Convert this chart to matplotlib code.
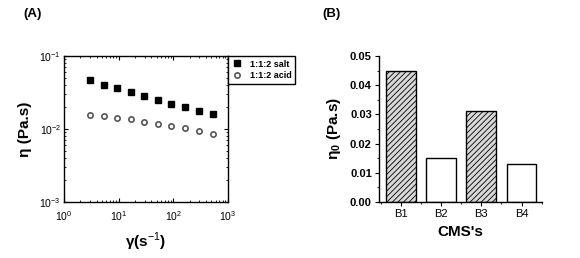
import numpy as np
import matplotlib
matplotlib.use("Agg")
import matplotlib.pyplot as plt
from matplotlib.ticker import LogLocator, MultipleLocator, NullFormatter, FormatStrFormatter

plt.rcParams['font.family'] = ['Liberation Sans', 'DejaVu Sans']
plt.rcParams['mathtext.fontset'] = 'custom'
plt.rcParams['mathtext.rm'] = 'Liberation Sans'
plt.rcParams['mathtext.bf'] = 'Liberation Sans:bold'
plt.rcParams['hatch.linewidth'] = 0.6
plt.rcParams['hatch.color'] = '#333333'

# panel A: viscosity vs shear rate
shear_rate = [2.96, 5.35, 9.3, 16.8, 29.5, 52.6, 91, 165, 298, 523]
eta_salt = [0.0465, 0.0402, 0.0366, 0.0322, 0.0284, 0.0250, 0.0218, 0.0197, 0.0179, 0.0160]
eta_acid = [0.0156, 0.0150, 0.0142, 0.0136, 0.0125, 0.0118, 0.0109, 0.0102, 0.0093, 0.0085]

# panel B: zero-shear viscosity
samples = ["B1", "B2", "B3", "B4"]
eta0 = [0.045, 0.015, 0.031, 0.013]
hatched = [True, False, True, False]

fig = plt.figure(figsize=(5.8, 2.58), dpi=100)

# ---- (A)
ax1 = fig.add_axes([0.110, 0.217, 0.283, 0.566])
ax1.loglog(shear_rate, eta_salt, linestyle="none", marker="s", markersize=3.8,
           color="black", label="1:1:2 salt")
ax1.loglog(shear_rate, eta_acid, linestyle="none", marker="o", markersize=3.8,
           markerfacecolor="white", markeredgecolor="#555555", markeredgewidth=1.2,
           label="1:1:2 acid")
ax1.set_xlim(1, 1000)
ax1.set_ylim(1e-3, 1e-1)
ax1.xaxis.set_major_locator(LogLocator(base=10, numticks=10))
ax1.yaxis.set_major_locator(LogLocator(base=10, numticks=10))
ax1.xaxis.set_minor_locator(LogLocator(base=10, subs=np.arange(2, 10), numticks=10))
ax1.yaxis.set_minor_locator(LogLocator(base=10, subs=np.arange(2, 10), numticks=10))
ax1.xaxis.set_minor_formatter(NullFormatter())
ax1.yaxis.set_minor_formatter(NullFormatter())
ax1.tick_params(which="both", direction="in", top=True, right=True, labelsize=7.5)
ax1.tick_params(axis="x", pad=5)
ax1.tick_params(axis="y", pad=2)
ax1.tick_params(which="major", length=3)
ax1.tick_params(which="minor", length=1.5)
for s in ax1.spines.values():
    s.set_linewidth(1)
ax1.set_xlabel("γ(s$^{-1}$)", fontsize=11, fontweight="bold", labelpad=6)
ax1.set_ylabel("η (Pa.s)", fontsize=11, fontweight="bold", labelpad=5)
leg = ax1.legend(loc="upper left", bbox_to_anchor=(1.0, 1.0), borderaxespad=0,
                 fancybox=False, edgecolor="black", framealpha=1,
                 prop={"size": 6.5, "weight": "bold"}, handlelength=1.2,
                 handletextpad=0.8, borderpad=0.4, labelspacing=0.3)
leg.get_frame().set_linewidth(1)
fig.text(0.040, 0.935, "(A)", fontsize=9.5, fontweight="bold")

# ---- (B)
ax2 = fig.add_axes([0.653, 0.217, 0.281, 0.566])
x = np.arange(len(samples))
for i in range(len(samples)):
    ax2.bar(x[i], eta0[i], width=0.74,
            facecolor="#d8d8d8" if hatched[i] else "white",
            edgecolor="black", linewidth=1,
            hatch="//////" if hatched[i] else None)
ax2.set_xlim(-0.55, 3.5)
ax2.set_ylim(0, 0.05)
ax2.set_xticks(x)
ax2.set_xticklabels(samples)
ax2.xaxis.set_minor_locator(MultipleLocator(0.5))
ax2.yaxis.set_major_locator(MultipleLocator(0.01))
ax2.yaxis.set_minor_locator(MultipleLocator(0.005))
ax2.yaxis.set_major_formatter(FormatStrFormatter("%.2f"))
ax2.spines["top"].set_visible(False)
ax2.spines["right"].set_visible(False)
for s in ("left", "bottom"):
    ax2.spines[s].set_linewidth(1)
ax2.tick_params(which="both", direction="out", labelsize=8, pad=2)
ax2.tick_params(which="major", length=3)
ax2.tick_params(which="minor", length=1.5)
for lab in ax2.get_yticklabels():
    lab.set_fontweight("bold")
ax2.set_xlabel("CMS's", fontsize=11, fontweight="bold", labelpad=4)
ax2.set_ylabel("η$_\\mathbf{0}$ (Pa.s)", fontsize=11, fontweight="bold", labelpad=5)
fig.text(0.555, 0.935, "(B)", fontsize=9.5, fontweight="bold")

fig.savefig("out.png", dpi=100)
